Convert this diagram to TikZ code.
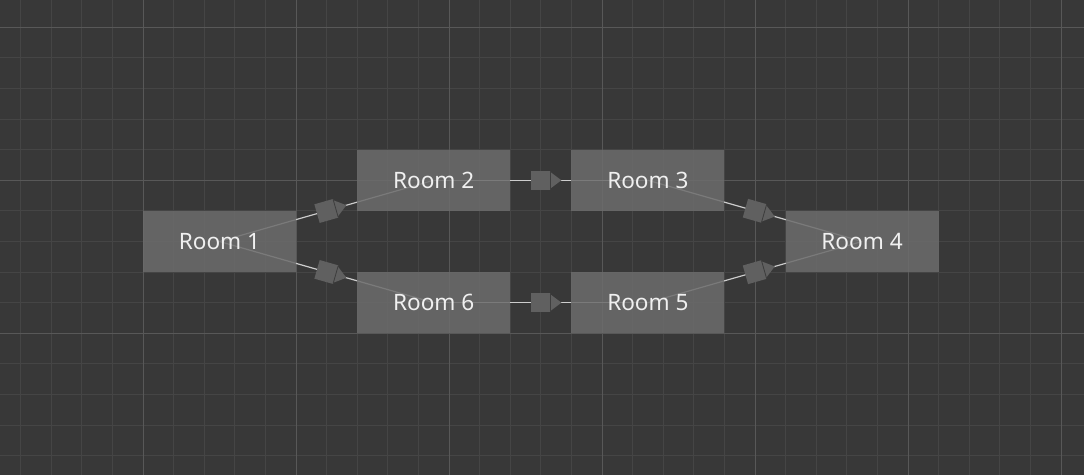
\documentclass[tikz,border=0pt]{standalone}
\usepackage{fontspec}
\setmainfont{Noto Sans}
\usetikzlibrary{decorations.markings}
\definecolor{GraphBg}{RGB}{56,56,56}
\definecolor{GridMinor}{RGB}{69,69,69}
\definecolor{GridMajor}{RGB}{88,88,88}
\definecolor{RoomGrey}{RGB}{108,108,108}
\definecolor{LinkGrey}{RGB}{205,205,205}
\definecolor{DoorGrey}{RGB}{96,96,96}
\definecolor{DoorEdge}{RGB}{62,62,62}
\pgfdeclarelayer{grid}
\pgfdeclarelayer{links}
\pgfsetlayers{grid,links,main}

\begin{document}
\begin{tikzpicture}[x=0.5cm,y=0.5cm,
  room/.style={rectangle,fill=RoomGrey,fill opacity=0.85,text opacity=1,
    text=white!94!black,minimum width=2.5cm,minimum height=1cm,inner sep=0pt,
    font=\fontsize{10.5}{12}\selectfont},
  link/.style={draw=LinkGrey,line width=0.55pt,postaction={decorate},
    decoration={markings,mark=at position 0.5 with {
      \fill[DoorGrey] (-4.6pt,-4.5pt) rectangle (4.4pt,4.5pt);
      \fill[DoorGrey] (4.4pt,-3.9pt) -- (9.6pt,0pt) -- (4.4pt,3.9pt) -- cycle;
      \draw[DoorEdge,line width=0.4pt] (4.4pt,-4.5pt) -- (4.4pt,4.5pt);}}}]
% canvas and grid
\begin{pgfonlayer}{grid}
\fill[GraphBg] (-4.673,-14.631) rectangle (30.752,0.892);
\useasboundingbox (-4.673,-14.631) rectangle (30.752,0.892);
\draw[GridMinor,line width=0.45pt,step=1] (-4.673,-14.631) grid (30.752,0.892);
\draw[GridMajor,line width=0.45pt,step=5] (-4.673,-14.631) grid (30.752,0.892);
\end{pgfonlayer}

% rooms
\node[room] (r1) at (2.5,-7) {Room 1};
\node[room] (r2) at (9.5,-5) {Room 2};
\node[room] (r3) at (16.5,-5) {Room 3};
\node[room] (r4) at (23.5,-7) {Room 4};
\node[room] (r5) at (16.5,-9) {Room 5};
\node[room] (r6) at (9.5,-9) {Room 6};

% doors
\begin{pgfonlayer}{links}
\draw[link] (r1.center) -- (r2.center);
\draw[link] (r2.center) -- (r3.center);
\draw[link] (r3.center) -- (r4.center);
\draw[link] (r1.center) -- (r6.center);
\draw[link] (r6.center) -- (r5.center);
\draw[link] (r5.center) -- (r4.center);
\end{pgfonlayer}
\end{tikzpicture}
\end{document}
